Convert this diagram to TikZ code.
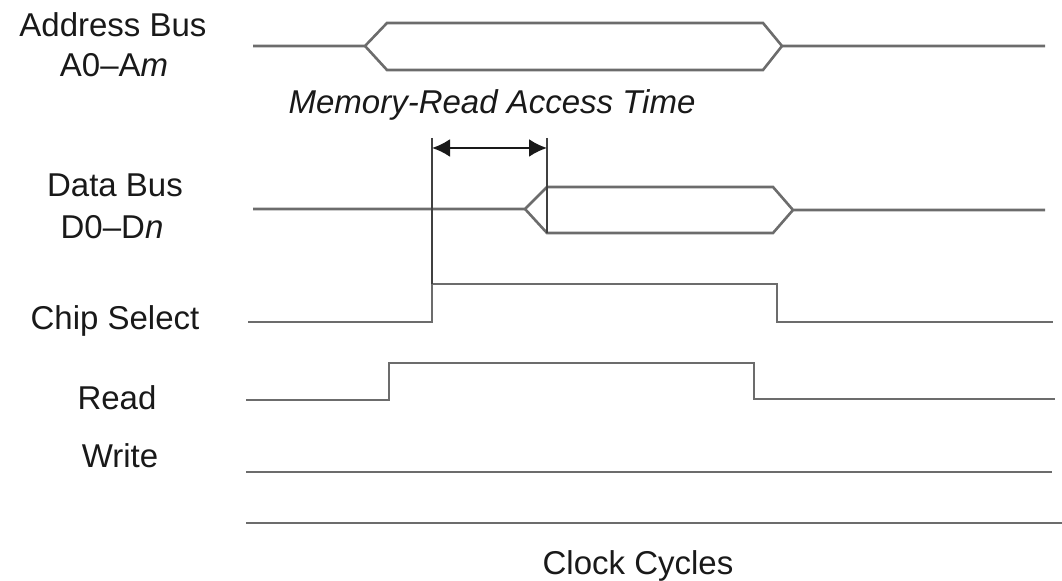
\documentclass[tikz,border=0pt]{standalone}
\usepackage{fontspec}
\setmainfont{Liberation Sans}
\usepackage{tikz}
\usetikzlibrary{arrows.meta,positioning,calc}

\begin{document}
\begin{tikzpicture}[
    x=0.5pt, y=-0.5pt,
    label/.style={anchor=base, font=\fontsize{16.5}{19}\selectfont, text=black!90},
    signal/.style={line width=1.3pt, gray!85!black, line join=miter},
    marker/.style={line width=1pt, black!75},
    span/.style={line width=1.2pt, black!90, {Latex[length=9pt,width=9pt]}-{Latex[length=9pt,width=9pt]}}
]
    \useasboundingbox (0,0) rectangle (1062,581);

    % signal names
    \node[label] (addr)  at (113,37)  {Address Bus};
    \node[label] (addrn) at (114,77)  {A0--A\textit{m}};
    \node[label] (data)  at (115,197) {Data Bus};
    \node[label] (datan) at (112,239) {D0--D\textit{n}};
    \node[label] (cs)    at (115,330) {Chip Select};
    \node[label] (rd)    at (117,410) {Read};
    \node[label] (wr)    at (120,468) {Write};
    \node[label] (clk)   at (638,575) {Clock Cycles};
    \node[label] (acc)   at (492,114) {\textit{Memory-Read Access Time}};

    % address bus
    \draw[signal] (253,46) -- (365,46) -- (387,23) -- (763,23) -- (782,46) -- (1045,46);
    \draw[signal] (365,46) -- (387,70) -- (763,70) -- (782,46);

    % data bus
    \draw[signal] (253,209) -- (525,209) -- (547,187) -- (773,187) -- (793,210) -- (1045,210);
    \draw[signal] (525,209) -- (547,233) -- (773,233) -- (793,210);

    % chip select, read, write, clock
    \draw[signal] (248,322) -- (432,322) -- (432,284) -- (777,284) -- (777,322) -- (1053,322);
    \draw[signal] (246,400) -- (389,400) -- (389,363) -- (754,363) -- (754,399) -- (1055,399);
    \draw[signal] (246,472) -- (1052,472);
    \draw[signal] (246,523) -- (1062,523);

    % access time
    \coordinate (t0) at (432,148);
    \coordinate (t1) at (547,148);
    \draw[marker] (432,138) -- (432,284);
    \draw[marker] (547,138) -- (547,233);
    \draw[span] (t0) -- (t1);
\end{tikzpicture}
\end{document}
